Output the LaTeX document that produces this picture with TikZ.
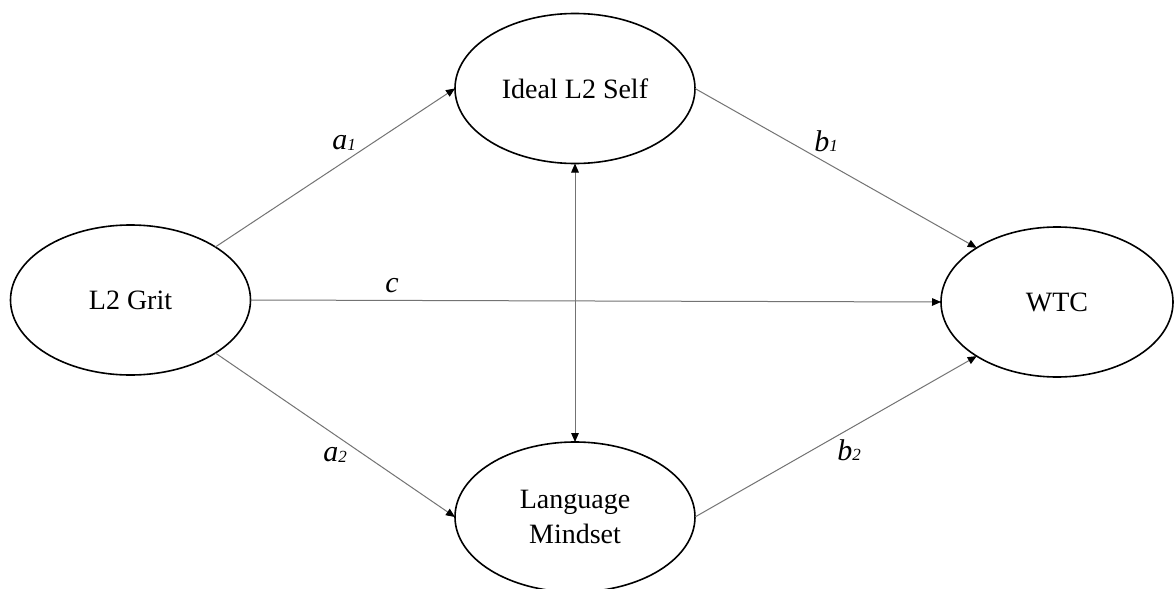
\documentclass[tikz,border=0pt]{standalone}
\usepackage{fontspec}
\setmainfont{Liberation Serif}
\usetikzlibrary{shapes.geometric,arrows.meta}
\tikzset{
  latent/.style={ellipse,draw=black,line width=0.8pt,inner sep=0pt,outer sep=0pt,
    minimum width=120pt,minimum height=75pt,align=center,
    font=\fontsize{14}{17.5}\selectfont},
  path/.style={draw=black!55,line width=0.5pt,
    -{Triangle[length=4.5pt,width=3.8pt,color=black]}},
  dpath/.style={draw=black!55,line width=0.5pt,
    {Triangle[length=4.5pt,width=3.8pt,color=black]}-{Triangle[length=4.5pt,width=3.8pt,color=black]}},
  coef/.style={font=\fontsize{15}{16}\selectfont\itshape,inner sep=0pt}
}
\newcommand{\coefsub}[2]{#1\raisebox{-0.3pt}{\fontsize{8.5}{9}\selectfont #2}}
\begin{document}
\begin{tikzpicture}[x=0.5pt,y=-0.5pt]
\clip (0,0) rectangle (1174,589);
\fill[white] (0,0) rectangle (1174,589);
\node[latent] (grit) at (130.5,300) {L2 Grit};
\node[latent] (ideal) at (575,88.5) {Ideal L2 Self};
\node[latent] (mind) at (575,517) {Language\\Mindset};
\node[latent,minimum width=116pt] (wtc) at (1057,302) {WTC};
\draw[path] (grit.32) -- (ideal.180);
\draw[path] (grit.-32) -- (mind.180);
\draw[path] (grit.0) -- (wtc.180);
\draw[path] (ideal.0) -- (wtc.146.6);
\draw[path] (mind.0) -- (wtc.-146.6);
\draw[dpath] (ideal.south) -- (mind.north);
\node[coef] (la1) at (344,143) {\coefsub{a}{1}};
\node[coef] (la2) at (335,455) {\coefsub{a}{2}};
\node[coef] (lb1) at (826,141) {\coefsub{b}{1}};
\node[coef] (lb2) at (849,450) {\coefsub{b}{2}};
\node[coef] (lc) at (392,286) {c};
\end{tikzpicture}
\end{document}
